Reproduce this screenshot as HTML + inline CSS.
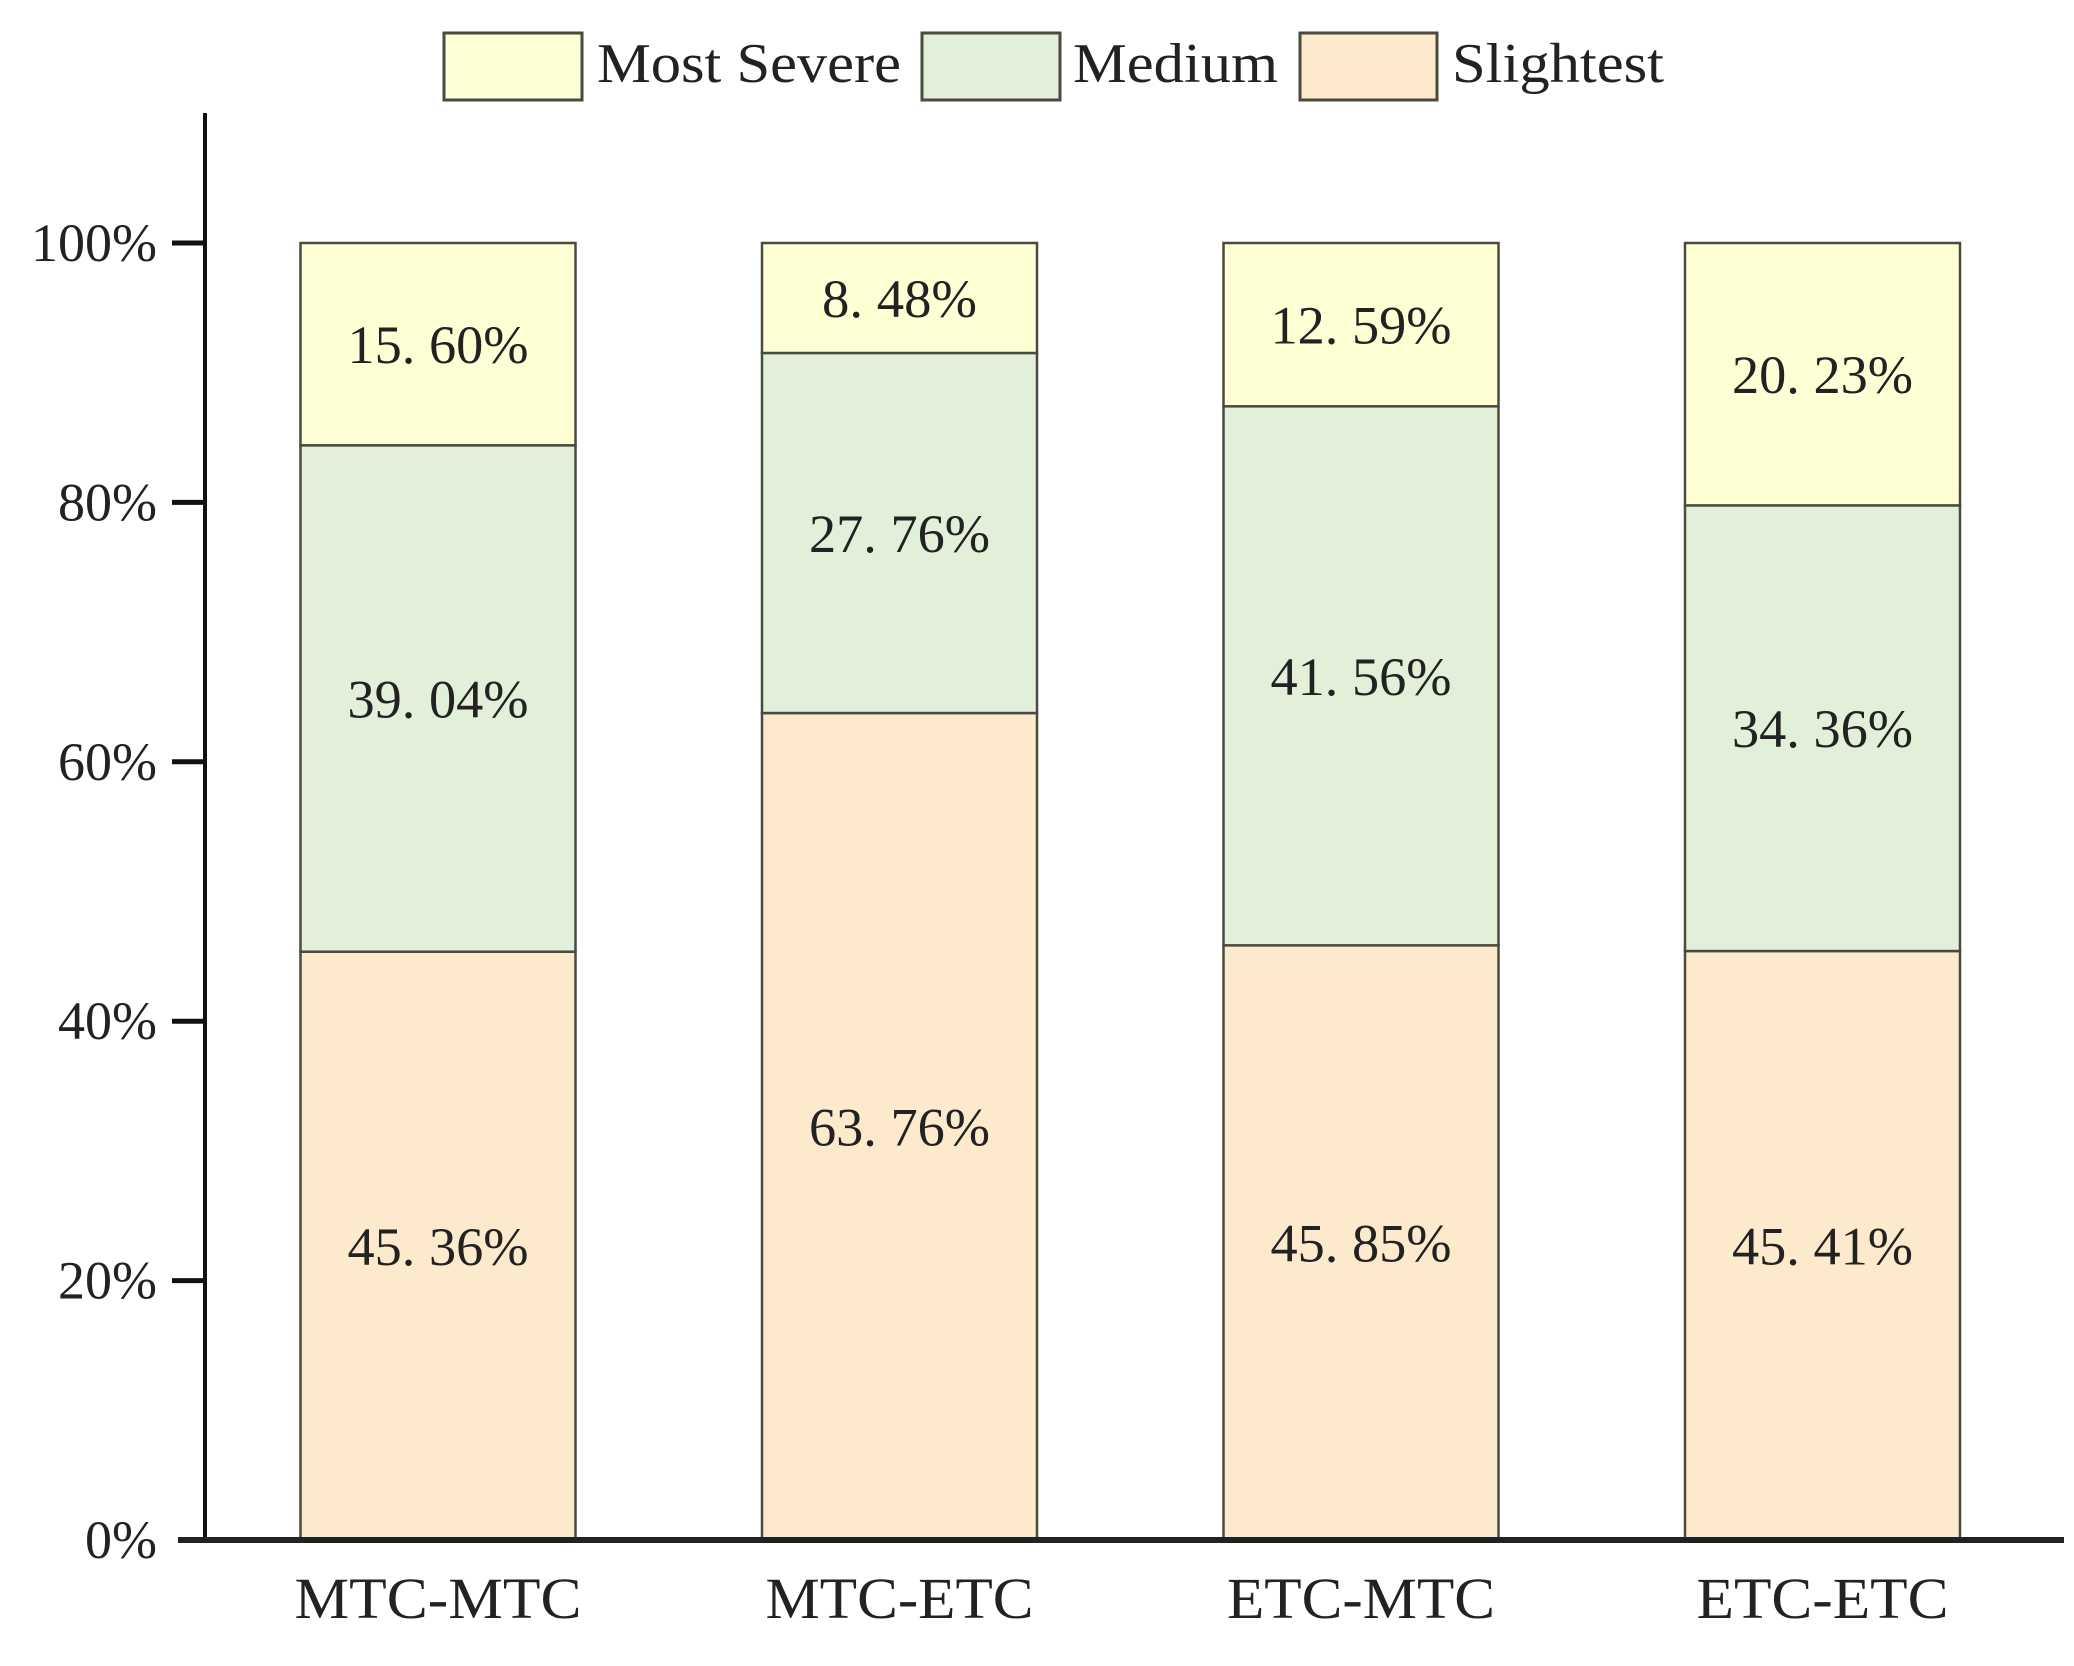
<!DOCTYPE html>
<html><head><meta charset="utf-8"><style>
html,body{margin:0;padding:0;background:#fff;}
svg{display:block;font-family:"Liberation Serif","Noto Serif CJK SC",serif;}
</style></head><body>
<svg id="chart" width="2074" height="1666" viewBox="0 0 2074 1666" xmlns="http://www.w3.org/2000/svg">
<g id="legend">
<g>
<rect x="444" y="33" width="138" height="67" fill="#FFFFD5" stroke="#4a4a40" stroke-width="3"/>
<text x="597" y="82" font-size="56" textLength="304" lengthAdjust="spacingAndGlyphs" fill="#222">Most Severe</text></g>
<g>
<rect x="922" y="33" width="138" height="67" fill="#E2F0D9" stroke="#4a4a40" stroke-width="3"/>
<text x="1073" y="82" font-size="56" textLength="205" lengthAdjust="spacingAndGlyphs" fill="#222">Medium</text></g>
<g>
<rect x="1300" y="33" width="137" height="67" fill="#FDE9CC" stroke="#4a4a40" stroke-width="3"/>
<text x="1452" y="82" font-size="56" textLength="212" lengthAdjust="spacingAndGlyphs" fill="#222">Slightest</text></g>
</g>
<g id="bars"></g>
<g id="axes"></g>
</svg>
<script>
const categories = ["MTC-MTC","MTC-ETC","ETC-MTC","ETC-ETC"];
const slightest = [45.36, 63.76, 45.85, 45.41];
const medium = [39.04, 27.76, 41.56, 34.36];
const mostSevere = [15.60, 8.48, 12.59, 20.23];
const yTicks = [0, 20, 40, 60, 80, 100];
const tickLabels = ["0%","20%","40%","60%","80%","100%"];

const NS = "http://www.w3.org/2000/svg";
const y0 = 1540, y100 = 243;
function yScale(v){ return y0 - (y0 - y100) * v / 100; }
const firstCenter = 438, step = 461.5, barW = 275;
function xCenter(i){ return firstCenter + i * step; }
function mk(tag, attrs, parent){ const e = document.createElementNS(NS, tag); for (const k in attrs) e.setAttribute(k, attrs[k]); parent.appendChild(e); return e; }
function fmt(v){ return v.toFixed(2).replace(".", ". ") + "%"; }

const bars = document.getElementById("bars");
const series = [
  {name:"slightest", vals:slightest, color:"#FDE9CC"},
  {name:"medium", vals:medium, color:"#E2F0D9"},
  {name:"most-severe", vals:mostSevere, color:"#FFFFD5"}
];
categories.forEach((c, i) => {
  let cum = 0;
  series.forEach(s => {
    const v = s.vals[i];
    const yTop = yScale(cum + v), yBot = yScale(cum);
    const r = mk("rect", {x: xCenter(i) - barW/2, y: yTop, width: barW, height: yBot - yTop, fill: s.color, stroke: "#4a4a40", "stroke-width": 2.5}, bars);
    
    
    const label = fmt(v);
    const t = mk("text", {x: xCenter(i), y: (yTop + yBot)/2 + 19, "font-size": 54, "text-anchor": "middle", fill: "#222", textLength: label.length === 6 ? 155 : 181, lengthAdjust: "spacingAndGlyphs"}, bars);
    t.textContent = label;
    
    
    cum += v;
  });
  const lab = mk("text", {x: xCenter(i), y: 1618, "font-size": 58, "text-anchor": "middle", fill: "#222", textLength: c === "MTC-MTC" ? 287 : (c === "ETC-ETC" ? 252 : 268), lengthAdjust: "spacingAndGlyphs"}, bars);
  lab.textContent = c;
  
  
});

const axes = document.getElementById("axes");
const ya = mk("line", {x1: 205, y1: 113, x2: 205, y2: 1543, stroke: "#111", "stroke-width": 4}, axes);


const xa = mk("line", {x1: 178, y1: 1540, x2: 2064, y2: 1540, stroke: "#222", "stroke-width": 6}, axes);


yTicks.forEach((v, k) => {
  const y = yScale(v);
  if (v > 0) {
    const tk = mk("line", {x1: 172, y1: y, x2: 205, y2: y, stroke: "#111", "stroke-width": 5}, axes);
    
    
  }
  const tl = mk("text", {x: 157, y: y + 18, "font-size": 54, "text-anchor": "end", fill: "#222"}, axes);
  tl.textContent = tickLabels[k];
  
  
});
</script>
</body></html>
